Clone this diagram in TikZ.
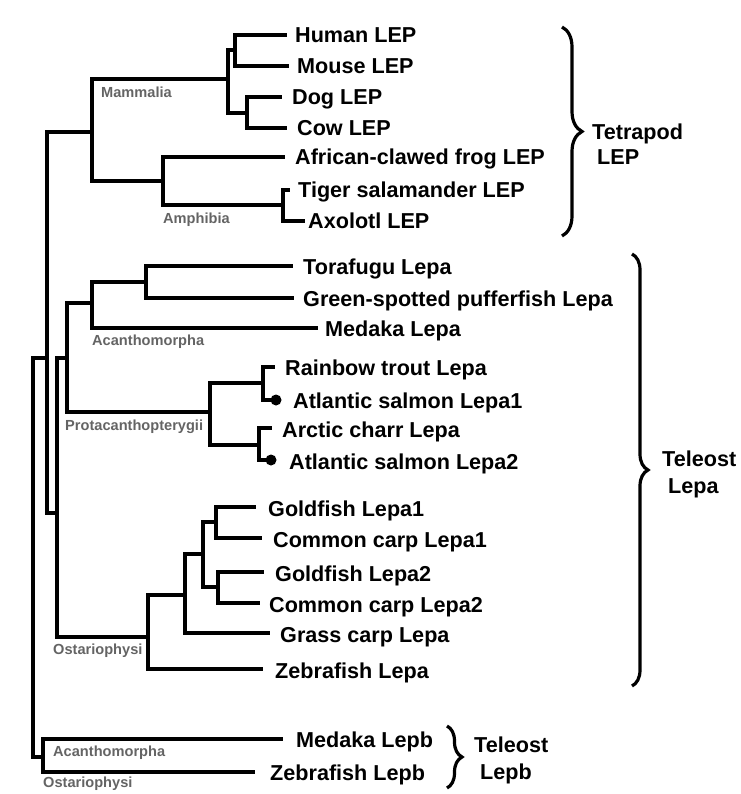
\documentclass[tikz,border=0pt]{standalone}
\usepackage{fontspec}
\setmainfont{Liberation Sans}
\usetikzlibrary{decorations.pathreplacing}
\definecolor{cladegray}{RGB}{100,100,100}
\begin{document}
\begin{tikzpicture}[x=1pt,y=-1pt,
  br/.style={line width=3.3pt, line join=miter},
  leaf/.style={anchor=base west, inner sep=0pt, font=\fontsize{21.6}{24}\selectfont\bfseries},
  clade/.style={anchor=base west, inner sep=0pt, text=cladegray, font=\fontsize{14.6}{16}\selectfont\bfseries},
  bracestyle/.style={decorate, decoration={brace, amplitude=#1}, line width=3.2pt},
  dot/.style={circle, fill=black, inner sep=0pt, minimum size=11pt}
]
\useasboundingbox (0,0) rectangle (740,794);

% inner nodes
\coordinate (root) at (33,558);
\coordinate (nA) at (47,358);
\coordinate (tet) at (92,132);
\coordinate (mam) at (228,79);
\coordinate (hm) at (235,50);
\coordinate (dc) at (247,113);
\coordinate (amp) at (163,181);
\coordinate (sa) at (283,205);
\coordinate (lepa) at (57,513);
\coordinate (eut) at (67,358);
\coordinate (aca) at (92,303);
\coordinate (puf) at (146,282);
\coordinate (pro) at (210,412);
\coordinate (sal1) at (263,383);
\coordinate (sal2) at (259,445);
\coordinate (ost) at (148,637);
\coordinate (cyp) at (185,595);
\coordinate (gc) at (203,554);
\coordinate (gc1) at (216,522);
\coordinate (gc2) at (218,587);
\coordinate (lepb) at (43,757);

% leaf ends
\coordinate (eHum) at (287,35);
\coordinate (eMou) at (289,66);
\coordinate (eDog) at (282,97);
\coordinate (eCow) at (287,128);
\coordinate (eFrog) at (285,157);
\coordinate (eSal) at (290,190);
\coordinate (eAxo) at (305,221);
\coordinate (eTor) at (293,266);
\coordinate (eGre) at (294,298);
\coordinate (eMed) at (318,328);
\coordinate (eRai) at (275,367);
\node[dot] (eAs1) at (276,400) {};
\coordinate (eArc) at (272,428);
\node[dot] (eAs2) at (271,460) {};
\coordinate (eGo1) at (256,507);
\coordinate (eCc1) at (262,538);
\coordinate (eGo2) at (264,572);
\coordinate (eCc2) at (260,603);
\coordinate (eGra) at (270,633);
\coordinate (eZeb) at (263,669);
\coordinate (eMdb) at (283,739);
\coordinate (eZbb) at (255,772);

% branches
\draw[br] (root) |- (nA);   \draw[br] (root) |- (lepb);
\draw[br] (nA) |- (tet);    \draw[br] (nA) |- (lepa);
\draw[br] (tet) |- (mam);   \draw[br] (tet) |- (amp);
\draw[br] (mam) |- (hm);    \draw[br] (mam) |- (dc);
\draw[br] (hm) |- (eHum);   \draw[br] (hm) |- (eMou);
\draw[br] (dc) |- (eDog);   \draw[br] (dc) |- (eCow);
\draw[br] (amp) |- (eFrog); \draw[br] (amp) |- (sa);
\draw[br] (sa) |- (eSal);   \draw[br] (sa) |- (eAxo);
\draw[br] (lepa) |- (eut);  \draw[br] (lepa) |- (ost);
\draw[br] (eut) |- (aca);   \draw[br] (eut) |- (pro);
\draw[br] (aca) |- (puf);   \draw[br] (aca) |- (eMed);
\draw[br] (puf) |- (eTor);  \draw[br] (puf) |- (eGre);
\draw[br] (pro) |- (sal1);  \draw[br] (pro) |- (sal2);
\draw[br] (sal1) |- (eRai); \draw[br] (sal1) |- (eAs1.center);
\draw[br] (sal2) |- (eArc); \draw[br] (sal2) |- (eAs2.center);
\draw[br] (ost) |- (cyp);   \draw[br] (ost) |- (eZeb);
\draw[br] (cyp) |- (gc);    \draw[br] (cyp) |- (eGra);
\draw[br] (gc) |- (gc1);    \draw[br] (gc) |- (gc2);
\draw[br] (gc1) |- (eGo1);  \draw[br] (gc1) |- (eCc1);
\draw[br] (gc2) |- (eGo2);  \draw[br] (gc2) |- (eCc2);
\draw[br] (lepb) |- (eMdb); \draw[br] (lepb) |- (eZbb);

% leaf labels
\node[leaf] (tHum) at (295,43) {Human LEP};
\node[leaf] (tMou) at (297,74) {Mouse LEP};
\node[leaf] (tDog) at (292,105) {Dog LEP};
\node[leaf] (tCow) at (297,136) {Cow LEP};
\node[leaf] (tFrog) at (295,165) {African-clawed frog LEP};
\node[leaf] (tSal) at (298,198) {Tiger salamander LEP};
\node[leaf] (tAxo) at (308,229) {Axolotl LEP};
\node[leaf] (tTor) at (303,274) {Torafugu Lepa};
\node[leaf] (tGre) at (303,306) {Green-spotted pufferfish Lepa};
\node[leaf] (tMed) at (325,336) {Medaka Lepa};
\node[leaf] (tRai) at (285,375) {Rainbow trout Lepa};
\node[leaf] (tAs1) at (293,408) {Atlantic salmon Lepa1};
\node[leaf] (tArc) at (282,437) {Arctic charr Lepa};
\node[leaf] (tAs2) at (289,469) {Atlantic salmon Lepa2};
\node[leaf] (tGo1) at (268,516) {Goldfish Lepa1};
\node[leaf] (tCc1) at (273,547) {Common carp Lepa1};
\node[leaf] (tGo2) at (275,581) {Goldfish Lepa2};
\node[leaf] (tCc2) at (269,612) {Common carp Lepa2};
\node[leaf] (tGra) at (280,642) {Grass carp Lepa};
\node[leaf] (tZeb) at (275,678) {Zebrafish Lepa};
\node[leaf] (tMdb) at (296,747) {Medaka Lepb};
\node[leaf] (tZbb) at (270,780) {Zebrafish Lepb};

% clade labels
\node[clade] (cMam) at (101,98) {Mammalia};
\node[clade] (cAmp) at (163,224) {Amphibia};
\node[clade] (cAca) at (92,345) {Acanthomorpha};
\node[clade] (cPro) at (65,430) {Protacanthopterygii};
\node[clade] (cOst) at (53,654) {Ostariophysi};
\node[clade] (cAcb) at (53,756) {Acanthomorpha};
\node[clade] (cOsb) at (43,787) {Ostariophysi};

% braces
\coordinate (bTt) at (562,27);  \coordinate (bTb) at (562,236);
\coordinate (bLt) at (632,254); \coordinate (bLb) at (632,686);
\coordinate (bBt) at (447,726); \coordinate (bBb) at (447,788);
\draw[bracestyle=20pt] (bTt) -- (bTb);
\draw[bracestyle=16pt] (bLt) -- (bLb);
\draw[bracestyle=15pt] (bBt) -- (bBb);

\node[leaf] (gT1) at (592,140) {Tetrapod};
\node[leaf] (gT2) at (597,165) {LEP};
\node[leaf] (gL1) at (662,466) {Teleost};
\node[leaf] (gL2) at (668,493) {Lepa};
\node[leaf] (gB1) at (474,752) {Teleost};
\node[leaf] (gB2) at (480,779) {Lepb};
\end{tikzpicture}
\end{document}
